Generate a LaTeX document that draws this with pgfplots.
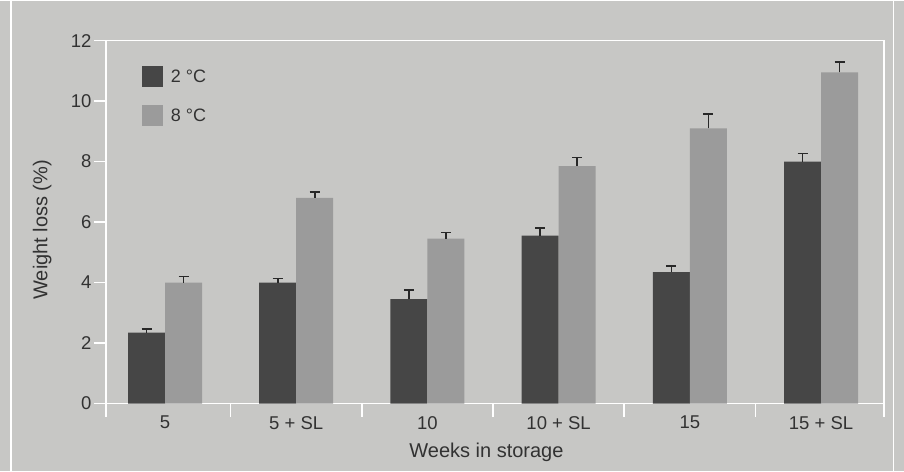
\documentclass[border=0pt]{standalone}
\usepackage{pgfplots}
\pgfplotsset{compat=1.18}
\usepackage{fontspec}
\setmainfont{Liberation Sans}
\definecolor{bgc}{RGB}{199,199,197}
\definecolor{darkbar}{RGB}{70,70,70}
\definecolor{lightbar}{RGB}{155,155,155}
\definecolor{txt}{RGB}{50,50,50}
\definecolor{errc}{RGB}{40,40,40}
\begin{document}
\begin{tikzpicture}[x=1pt,y=1pt]
\fill[bgc] (0,0) rectangle (904,470);
\draw[white,line width=1.2pt] (11,0) -- (11,470);
\draw[white,line width=0.8pt] (893,0) -- (893,470);
\begin{axis}[
  at={(106pt,67pt)}, anchor=south west,
  scale only axis, width=778pt, height=363pt,
  xmin=-0.45, xmax=5.48, ymin=0, ymax=12,
  axis line style={white, line width=1.6pt},
  xtick={0,1,2,3,4,5},
  xticklabels={5, 5 + SL, 10, 10 + SL, 15, 15 + SL},
  major x tick style={draw=none},
  minor xtick={-0.45,0.5,1.5,2.5,3.5,4.5,5.48},
  minor x tick style={white, line width=1.6pt},
  minor tick length=13pt,
  ytick={0,2,...,12},
  y tick style={white, line width=1.6pt},
  major tick length=12pt,
  tick align=outside,
  xtick pos=bottom, ytick pos=left,
  /pgf/number format/assume math mode=true,
  ticklabel style={font=\fontsize{18.5}{22}\selectfont, text=txt},
  xticklabel style={yshift=3pt},
  yticklabel style={xshift=1pt},
  xlabel={Weeks in storage},
  ylabel={Weight loss (\%)},
  label style={font=\fontsize{20}{24}\selectfont, text=txt},
  xlabel style={at={(axis description cs:0.489,-0.135)}, anchor=center},
  ylabel style={at={(axis description cs:-0.082,0.479)}, anchor=center},
  ybar, bar width=37pt,
  legend style={at={(0.042,0.935)}, anchor=north west, draw=none, fill=none,
    font=\fontsize{18}{21}\selectfont, text=txt, row sep=18pt, column sep=6pt},
  legend cell align=left,
  legend image code/.code={\fill[#1] (0pt,-10.5pt) rectangle (21pt,10.5pt);},
  error bars/y dir=plus, error bars/y explicit,
  error bars/error bar style={errc, line width=1.6pt},
  error bars/error mark options={rotate=90, errc, mark size=5pt, line width=1.6pt},
]
\addplot[fill=darkbar, draw=none, bar shift=-18.5pt] coordinates {
  (0,2.35) +- (0,0.12)
  (1,4.00) +- (0,0.13)
  (2,3.45) +- (0,0.30)
  (3,5.55) +- (0,0.25)
  (4,4.35) +- (0,0.20)
  (5,8.00) +- (0,0.27)
};
\addplot[fill=lightbar, draw=none, bar shift=18.5pt] coordinates {
  (0,4.00) +- (0,0.20)
  (1,6.80) +- (0,0.20)
  (2,5.45) +- (0,0.20)
  (3,7.85) +- (0,0.28)
  (4,9.10) +- (0,0.48)
  (5,10.95) +- (0,0.35)
};
\legend{2 °C, 8 °C}
\end{axis}
\end{tikzpicture}
\end{document}
